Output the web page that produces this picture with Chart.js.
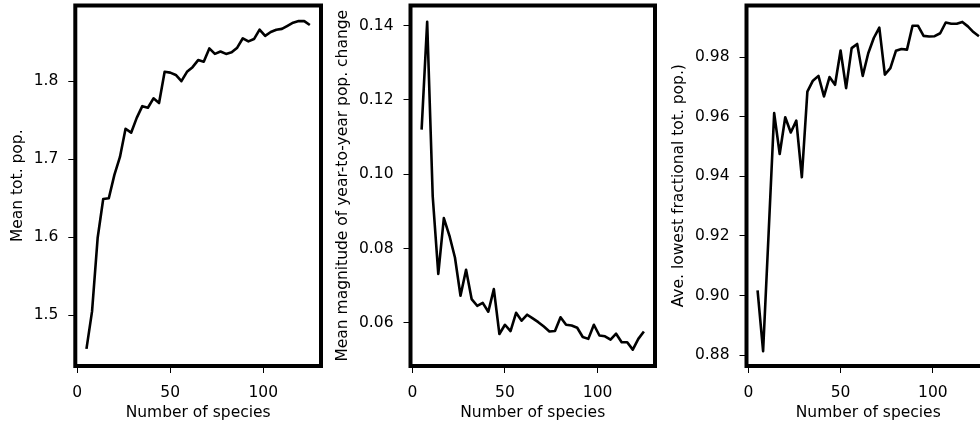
<!DOCTYPE html>
<html>
<head>
<meta charset="utf-8">
<script src="https://cdn.jsdelivr.net/npm/chart.js@4.4.1/dist/chart.umd.min.js"></script>
<style>
  html, body { margin: 0; padding: 0; width: 980px; height: 423px; overflow: hidden; background: #fff; }
  canvas { position: absolute; top: 0; }
</style>
</head>
<body>
<canvas id="popChart" width="330" height="423" style="left:0"></canvas>
<canvas id="changeChart" width="330" height="423" style="left:330px"></canvas>
<canvas id="lowestChart" width="340" height="423" style="left:660px"></canvas>
<script>
// Number of species in each community
const species = [5, 8, 11, 14, 17, 20, 23, 26, 29, 32, 35, 38, 41, 44, 47, 50, 53, 56, 59, 62, 65,
                 68, 71, 74, 77, 80, 83, 86, 89, 92, 95, 98, 101, 104, 107, 110, 113, 116, 119, 122, 125];

const meanTotPop = [1.457, 1.505, 1.599, 1.649, 1.650, 1.680, 1.703, 1.739, 1.734, 1.753, 1.768,
                    1.766, 1.778, 1.772, 1.812, 1.811, 1.808, 1.800, 1.812, 1.818, 1.827, 1.825,
                    1.842, 1.835, 1.838, 1.835, 1.837, 1.843, 1.855, 1.851, 1.854, 1.866, 1.858,
                    1.863, 1.866, 1.867, 1.871, 1.875, 1.877, 1.877, 1.872];

const meanChange = [0.112, 0.141, 0.094, 0.0732, 0.0882, 0.0835, 0.0776, 0.0673, 0.0743, 0.0664, 0.0646,
                    0.0654, 0.0630, 0.0691, 0.0570, 0.0595, 0.0578, 0.0627, 0.0606, 0.0622, 0.0612,
                    0.0602, 0.0590, 0.0577, 0.0578, 0.0615, 0.0595, 0.0593, 0.0587, 0.0562, 0.0557,
                    0.0595, 0.0566, 0.0564, 0.0555, 0.0571, 0.0548, 0.0548, 0.0528, 0.0557, 0.0577];

const lowestFrac = [0.9018, 0.8814, 0.921, 0.9612, 0.9475, 0.9598, 0.9547, 0.9587, 0.9397, 0.9684, 0.9721,
                    0.9737, 0.9668, 0.9733, 0.9707, 0.9822, 0.9696, 0.9830, 0.9844, 0.9737, 0.9813,
                    0.9864, 0.9899, 0.9741, 0.9763, 0.9821, 0.9827, 0.9825, 0.9905, 0.9905, 0.9871,
                    0.9869, 0.9870, 0.9880, 0.9916, 0.9912, 0.9912, 0.9918, 0.9903, 0.9884, 0.9870];

const speciesTicks = [0, 50, 100];
const popTicks = [1.5, 1.6, 1.7, 1.8];
const changeTicks = [0.06, 0.08, 0.10, 0.12, 0.14];
const lowestTicks = [0.88, 0.90, 0.92, 0.94, 0.96, 0.98];

Chart.defaults.font.family = "'DejaVu Sans', sans-serif";
Chart.defaults.font.size = 15.5;
Chart.defaults.color = '#000';

// heavy black box round the plot area
const framePlugin = {
    id: 'frame',
    afterDraw(chart) {
        const { ctx, chartArea: a } = chart;
        ctx.save();
        ctx.strokeStyle = '#000';
        ctx.lineWidth = 4;
        ctx.strokeRect(a.left, a.top, a.right - a.left, a.bottom - a.top);
        ctx.restore();
    }
};

// no extra room for half tick labels, the box is placed by the padding below
function noLabelPadding(axis) {
    axis.paddingTop = 0;
    axis.paddingBottom = 0;
    axis.paddingLeft = 0;
    axis.paddingRight = 0;
}

function makePanel(id, values, yLabel, yTicks, yMin, yMax, decimals, yAxisWidth, rightPad, titlePad) {
    const tickGrid = { drawOnChartArea: false, drawTicks: true, tickLength: 7, tickWidth: 1, tickColor: '#000' };
    return new Chart(document.getElementById(id), {
        type: 'line',
        data: {
            datasets: [{
                data: species.map((s, i) => ({ x: s, y: values[i] })),
                borderColor: '#000',
                borderWidth: 2.6,
                borderJoinStyle: 'round',
                pointRadius: 0,
                tension: 0,
                fill: false
            }]
        },
        options: {
            responsive: false,
            animation: false,
            devicePixelRatio: 1,
            layout: { padding: { left: 0, top: 5.5, right: rightPad, bottom: 0 } },
            plugins: { legend: { display: false }, tooltip: { enabled: false } },
            scales: {
                x: {
                    type: 'linear',
                    min: -1,
                    max: 131,
                    afterBuildTicks: axis => { axis.ticks = speciesTicks.map(v => ({ value: v })); },
                    afterFit: axis => { axis.height = 57; noLabelPadding(axis); },
                    ticks: { padding: 11, maxRotation: 0, callback: v => String(v) },
                    grid: tickGrid,
                    border: { display: false },
                    title: { display: true, text: 'Number of species', padding: { top: 0, bottom: 1 } }
                },
                y: {
                    type: 'linear',
                    min: yMin,
                    max: yMax,
                    afterBuildTicks: axis => { axis.ticks = yTicks.map(v => ({ value: v })); },
                    afterFit: axis => { axis.width = yAxisWidth; noLabelPadding(axis); },
                    ticks: { padding: 10, callback: v => v.toFixed(decimals) },
                    grid: tickGrid,
                    border: { display: false },
                    title: { display: true, text: yLabel, padding: { top: titlePad, bottom: 0 } }
                }
            }
        },
        plugins: [framePlugin]
    });
}

makePanel('popChart', meanTotPop, 'Mean tot. pop.', popTicks, 1.435, 1.897, 1, 75.3, 9, 8.5);
makePanel('changeChart', meanChange, 'Mean magnitude of year-to-year pop. change', changeTicks, 0.0484, 0.1454, 2, 80.5, 5, 4);
makePanel('lowestChart', lowestFrac, 'Ave. lowest fractional tot. pop.)', lowestTicks, 0.8764, 0.9973, 2, 86.5, 10, 9.5);
</script>
</body>
</html>
